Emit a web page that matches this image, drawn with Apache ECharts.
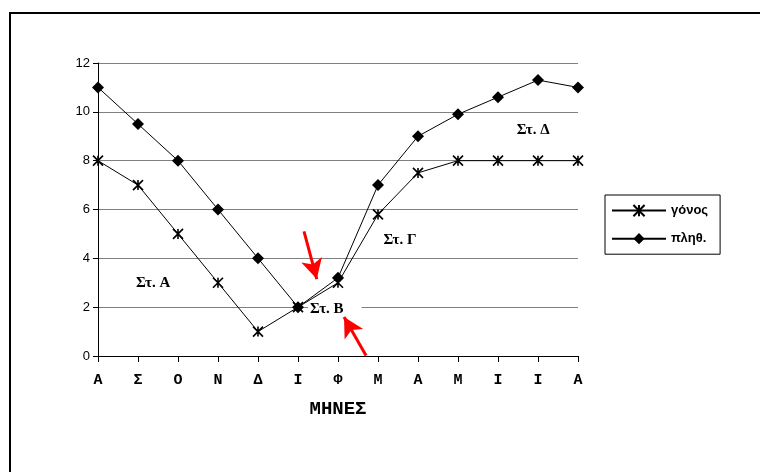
<!DOCTYPE html>
<html>
<head>
<meta charset="utf-8">
<script src="https://cdn.jsdelivr.net/npm/echarts@6/dist/echarts.min.js"></script>
<style>
  html, body { margin: 0; padding: 0; background: #fff; }
  #main { width: 760px; height: 472px; }
</style>
</head>
<body>
<div id="main"></div>
<script>
const months = ["Α", "Σ", "Ο", "Ν", "Δ", "Ι", "Φ", "Μ", "Α", "Μ", "Ι", "Ι", "Α"];
const gonos = [8, 7, 5, 3, 1, 2, 3, 5.8, 7.5, 8, 8, 8, 8];
const plith = [11, 9.5, 8, 6, 4, 2, 3.2, 7, 9, 9.9, 10.6, 11.3, 11];

// stage labels, placed in data space [month index, value]
const stages = [
  { name: "Στ. Α", at: [1.38, 3.0] },
  { name: "Στ. Β", at: [5.92, 1.9] },
  { name: "Στ. Γ", at: [7.55, 4.75] },
  { name: "Στ. Δ", at: [10.88, 9.25] },
];

// red arrows: [from, to] in data space
const arrows = [
  [[5.15, 5.1], [5.47, 3.15]],
  [[6.7, 0.02], [6.15, 1.6]],
];

const toPoints = (vals) => vals.map((v, i) => [i, v]);

const asterisk = "path://M0 0L10 10M10 0L0 10M5 0L5 10";

const myChart = echarts.init(document.getElementById("main"));

myChart.setOption({
  animation: false,
  backgroundColor: "#fff",
  graphic: [
    {
      type: "rect",
      shape: { x: 10, y: 13, width: 800, height: 500 },
      style: { fill: "none", stroke: "#000", lineWidth: 2 },
      silent: true,
    },
  ],
  grid: { left: 98, right: 182, top: 63, bottom: 116 },
  legend: {
    orient: "vertical",
    left: 605,
    top: 195,
    padding: [9, 12, 9, 6],
    itemGap: 15,
    itemWidth: 54,
    itemHeight: 14,
    borderColor: "#000",
    borderWidth: 1,
    textStyle: { fontFamily: "Liberation Sans", fontWeight: "bold", fontSize: 13, color: "#000" },
    data: ["γόνος", "πληθ."],
  },
  xAxis: {
    type: "value",
    min: 0,
    max: 12,
    interval: 1,
    name: "ΜΗΝΕΣ",
    nameLocation: "middle",
    nameGap: 44,
    nameTextStyle: { fontFamily: "Liberation Mono", fontWeight: "bold", fontSize: 19, color: "#000" },
    axisLine: { lineStyle: { color: "#000", width: 1 } },
    axisTick: { show: true, length: 6, lineStyle: { color: "#000" } },
    axisLabel: {
      margin: 17,
      fontFamily: "Liberation Mono",
      fontWeight: "bold",
      fontSize: 15,
      color: "#000",
      formatter: (v) => months[v] || "",
    },
    splitLine: { show: false },
  },
  yAxis: {
    type: "value",
    min: 0,
    max: 12,
    interval: 2,
    axisLine: { show: true, lineStyle: { color: "#000", width: 1 } },
    axisTick: { show: true, length: 5, lineStyle: { color: "#000" } },
    axisLabel: { fontFamily: "Liberation Sans", fontSize: 13, color: "#000", margin: 8 },
    splitLine: { lineStyle: { color: "#808080", width: 1 } },
  },
  series: [
    {
      name: "labels",
      type: "scatter",
      symbolSize: 0,
      z: 1,
      itemStyle: { opacity: 1 },
      data: stages.map((s) => ({
        value: s.at,
        name: s.name,
        // Στ. Β's white box also hides the gridline to its right
        label: s.name === "Στ. Β" ? { padding: [2, 18, 2, 2] } : {},
      })),
      label: {
        show: true,
        position: "inside",
        formatter: (p) => p.name,
        fontFamily: "Liberation Serif",
        fontWeight: "bold",
        fontSize: 15,
        color: "#000",
        textBorderWidth: 0,
        backgroundColor: "#fff",
        padding: [2, 3, 2, 3],
      },
      markLine: {
        silent: true,
        symbol: ["none", "arrow"],
        symbolSize: [16, 20],
        lineStyle: { color: "#ff0000", width: 3, type: "solid", opacity: 1 },
        label: { show: false },
        data: arrows.map((a) => [{ coord: a[0] }, { coord: a[1] }]),
      },
    },
    {
      name: "πληθ.",
      type: "line",
      z: 3,
      data: toPoints(plith),
      symbol: "diamond",
      symbolSize: 12,
      lineStyle: { color: "#000", width: 1 },
      itemStyle: { color: "#000" },
    },
    {
      name: "γόνος",
      type: "line",
      z: 3,
      data: toPoints(gonos),
      symbol: asterisk,
      symbolSize: 10,
      lineStyle: { color: "#000", width: 1 },
      itemStyle: { color: "#000", borderColor: "#000", borderWidth: 1.6 },
    },
  ],
});
</script>
</body>
</html>
